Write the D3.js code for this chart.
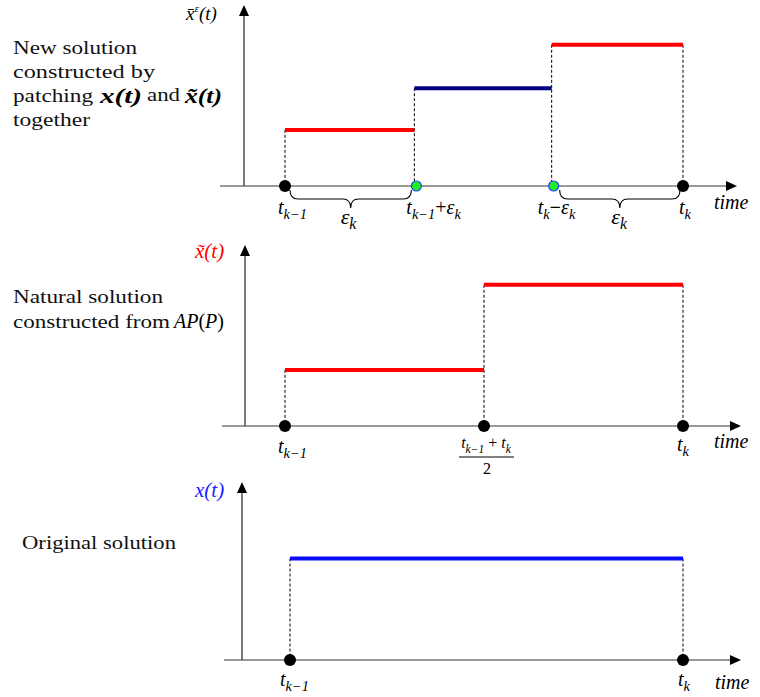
<!DOCTYPE html>
<html><head><meta charset="utf-8">
<script src="https://cdn.jsdelivr.net/npm/d3@7"></script>
<style>
html,body{margin:0;padding:0;background:#fff;}
svg text{font-family:"Liberation Serif","Times New Roman",serif;}
.m{font-style:italic;}
</style></head>
<body>
<svg id="c" width="760" height="697"></svg>
<script>
// ---- data ----
const panelNames = ["patched", "natural", "original"];
// breakpoints (time, t_{k-1}=0, t_k=1) and levels of each step
const patchedBreaks = [0, 0.325, 0.67, 1];
const patchedLevels = [0.31, 0.54, 0.78];
const patchedColors = ["#ff0000", "#000080", "#ff0000"];
const naturalBreaks = [0, 0.5, 1];
const naturalLevels = [0.31, 0.78];
const naturalColors = ["#ff0000", "#ff0000"];
const originalBreaks = [0, 1];
const originalLevels = [0.57];
const originalColors = ["#0a0aff"];
const patchedPointKinds = ["end", "mid", "mid", "end"];
const epsilon = 0.325;

const svg = d3.select("#c");

const panels = [
  {breaks: patchedBreaks, levels: patchedLevels, colors: patchedColors, kinds: patchedPointKinds,
   base: 186, top: 5, yAxisX: 244, xRange: [285, 683], axisStart: 220, axisEnd: 737},
  {breaks: naturalBreaks, levels: naturalLevels, colors: naturalColors, kinds: ["end","end","end"],
   base: 426, top: 245, yAxisX: 245, xRange: [285, 683], axisStart: 222, axisEnd: 741},
  {breaks: originalBreaks, levels: originalLevels, colors: originalColors, kinds: ["end","end"],
   base: 660, top: 482, yAxisX: 242, xRange: [290, 683], axisStart: 224, axisEnd: 741}
];

panels.forEach((p, pi) => {
  const x = d3.scaleLinear().domain([0, 1]).range(p.xRange);
  const y = d3.scaleLinear().domain([0, 1]).range([p.base, p.top]);
  const g = svg.append("g");
  g.append("line").attr("x1", p.axisStart).attr("x2", p.axisEnd - 8)
    .attr("y1", y(0)).attr("y2", y(0)).attr("stroke", "#777").attr("stroke-width", 1.6);
  g.append("path").attr("d", `M${p.axisEnd},${y(0)} l-11,-5 l0,10 z`).attr("fill", "#000");
  g.append("line").attr("x1", p.yAxisX).attr("x2", p.yAxisX)
    .attr("y1", y(0)).attr("y2", y(1) + 8).attr("stroke", "#444").attr("stroke-width", 1.4);
  g.append("path").attr("d", `M${p.yAxisX},${y(1)} l-5,11 l10,0 z`).attr("fill", "#000");
  p.breaks.forEach((b, i) => {
    const lv = Math.max(i > 0 ? p.levels[i - 1] : 0, i < p.levels.length ? p.levels[i] : 0);
    g.append("line").attr("x1", x(b)).attr("x2", x(b)).attr("y1", y(lv)).attr("y2", y(0))
      .attr("stroke", "#000").attr("stroke-width", 1).attr("stroke-dasharray", "3,2");
  });
  p.levels.forEach((lv, i) => {
    g.append("line").attr("x1", x(p.breaks[i])).attr("x2", x(p.breaks[i + 1]))
      .attr("y1", y(lv)).attr("y2", y(lv)).attr("stroke", p.colors[i]).attr("stroke-width", 4);
  });
  p.breaks.forEach((b, i) => {
    if (pi === 0 && p.kinds[i] === "mid") {
      g.append("circle").attr("cx", x(b) + 2).attr("cy", y(0)).attr("r", 5)
        .attr("fill", "#22ee22").attr("stroke", "#2244ff").attr("stroke-width", 1.2);
    } else {
      g.append("circle").attr("cx", x(b)).attr("cy", y(0)).attr("r", 6).attr("fill", "#000");
    }
  });
  p.x = x; p.y = y; p.g = g;
});

function mathLabel(sel, xx, yy, parts, opts = {}) {
  const fs = opts.size || 19;
  const t = sel.append("text").attr("x", xx).attr("y", yy)
    .attr("font-size", fs).attr("class", "m")
    .attr("text-anchor", opts.anchor || "start")
    .attr("fill", opts.fill || "#000");
  parts.forEach(pt => {
    const ts = t.append("tspan").text(pt.t);
    if (pt.sub) ts.attr("font-size", fs * 0.72).attr("dy", 5);
    if (pt.sup) ts.attr("font-size", fs * 0.6).attr("dy", -8);
    if (pt.back) ts.attr("dy", pt.back);
    if (pt.upright) ts.style("font-style", "normal");
    if (pt.bold) ts.attr("font-weight", "bold");
  });
  return t;
}

const tkm1 = [{t: "t"}, {t: "k\u22121", sub: true}];
const tk = [{t: "t"}, {t: "k", sub: true}];
const epsk = [{t: "\u03b5"}, {t: "k", sub: true}];

// ---- panel 1 ----
const P1 = panels[0];
function brace(g, x1, x2, y0, h) {
  const m = (x1 + x2) / 2, r = 8, yh = y0 + h / 2;
  g.append("path").attr("fill", "none").attr("stroke", "#000").attr("stroke-width", 1.1)
    .attr("d", `M${x1},${y0} Q${x1},${yh} ${x1 + r},${yh} L${m - r},${yh} Q${m},${yh} ${m},${y0 + h} Q${m},${yh} ${m + r},${yh} L${x2 - r},${yh} Q${x2},${yh} ${x2},${y0}`);
}
brace(P1.g, P1.x(0) + 5, P1.x(epsilon) - 3, 190, 18);
brace(P1.g, P1.x(1 - epsilon) + 6, P1.x(1) - 3, 190, 18);
mathLabel(svg, P1.x(0) - 7, 214, tkm1, {size: 20});
mathLabel(svg, P1.x(epsilon / 2) - 9, 224, epsk, {size: 22});
mathLabel(svg, P1.x(epsilon) - 8, 214, [{t: "t"}, {t: "k\u22121", sub: true}, {t: "+", upright: true, back: -5}, {t: "\u03b5"}, {t: "k", sub: true}], {size: 20});
mathLabel(svg, P1.x(1 - epsilon) - 16, 214, [{t: "t"}, {t: "k", sub: true}, {t: "\u2212", upright: true, bold: true, back: -5}, {t: "\u03b5"}, {t: "k", sub: true}], {size: 20});
mathLabel(svg, P1.x(1 - epsilon / 2) - 7, 224, epsk, {size: 22});
mathLabel(svg, P1.x(1) - 4, 214, tk, {size: 20});
svg.append("text").attr("x", 714).attr("y", 209).attr("class", "m").attr("font-size", 20).text("time");
mathLabel(svg, 186, 20, [{t: "x\u0304"}, {t: "\u03b5", sup: true}, {t: "(t)", back: 8}], {size: 19});

// ---- panel 2 ----
const P2 = panels[1];
mathLabel(svg, P2.x(0) - 7, 453, tkm1, {size: 20});
mathLabel(svg, P2.x(0.5) + 2, 448, [{t: "t"}, {t: "k\u22121", sub: true}, {t: " + ", upright: true, back: -5}, {t: "t"}, {t: "k", sub: true}], {size: 16, anchor: "middle"});
svg.append("line").attr("x1", P2.x(0.5) - 25).attr("x2", P2.x(0.5) + 30).attr("y1", 457).attr("y2", 457).attr("stroke", "#000").attr("stroke-width", 1);
svg.append("text").attr("x", P2.x(0.5) + 3).attr("y", 474).attr("text-anchor", "middle").attr("font-size", 16).text("2");
mathLabel(svg, P2.x(1) - 6, 451, tk, {size: 20});
svg.append("text").attr("x", 714).attr("y", 448).attr("class", "m").attr("font-size", 20).text("time");
mathLabel(svg, 195, 258, [{t: "x\u0303(t)"}], {size: 21, fill: "#ff0000"});

// ---- panel 3 ----
const P3 = panels[2];
mathLabel(svg, P3.x(0) - 10, 686, tkm1, {size: 20});
mathLabel(svg, P3.x(1) - 5, 686, tk, {size: 20});
svg.append("text").attr("x", 715).attr("y", 689).attr("class", "m").attr("font-size", 20).text("time");
mathLabel(svg, 195, 497, [{t: "x(t)"}], {size: 21, fill: "#1a1aff"});

// ---- left descriptions ----
const lt = (xx, yy, s, w) => {
  const t = svg.append("text").attr("x", xx).attr("y", yy).attr("font-size", 18).attr("fill", "#111").text(s);
  if (w) t.attr("textLength", w).attr("lengthAdjust", "spacingAndGlyphs");
  return t;
};
lt(13, 54, "New solution", 124);
lt(13, 78, "constructed by", 142);
lt(13, 102, "patching", 80);
svg.append("text").attr("x", 100).attr("y", 103).attr("class", "m").attr("font-weight", "bold").attr("font-size", 21)
  .attr("textLength", 42).attr("lengthAdjust", "spacingAndGlyphs").text("x(t)");
lt(147, 101, "and", 33);
svg.append("text").attr("x", 185).attr("y", 103).attr("class", "m").attr("font-weight", "bold").attr("font-size", 21)
  .attr("textLength", 37).attr("lengthAdjust", "spacingAndGlyphs").text("x\u0303(t)");
lt(13, 126, "together", 77);
lt(13, 303, "Natural solution", 150);
lt(13, 328, "constructed from", 157);
const ap = svg.append("text").attr("x", 174).attr("y", 328).attr("font-size", 20);
ap.append("tspan").attr("class", "m").text("AP");
ap.append("tspan").text("(");
ap.append("tspan").attr("class", "m").text("P");
ap.append("tspan").text(")");
lt(22, 549, "Original solution", 154);
</script>
</body></html>
